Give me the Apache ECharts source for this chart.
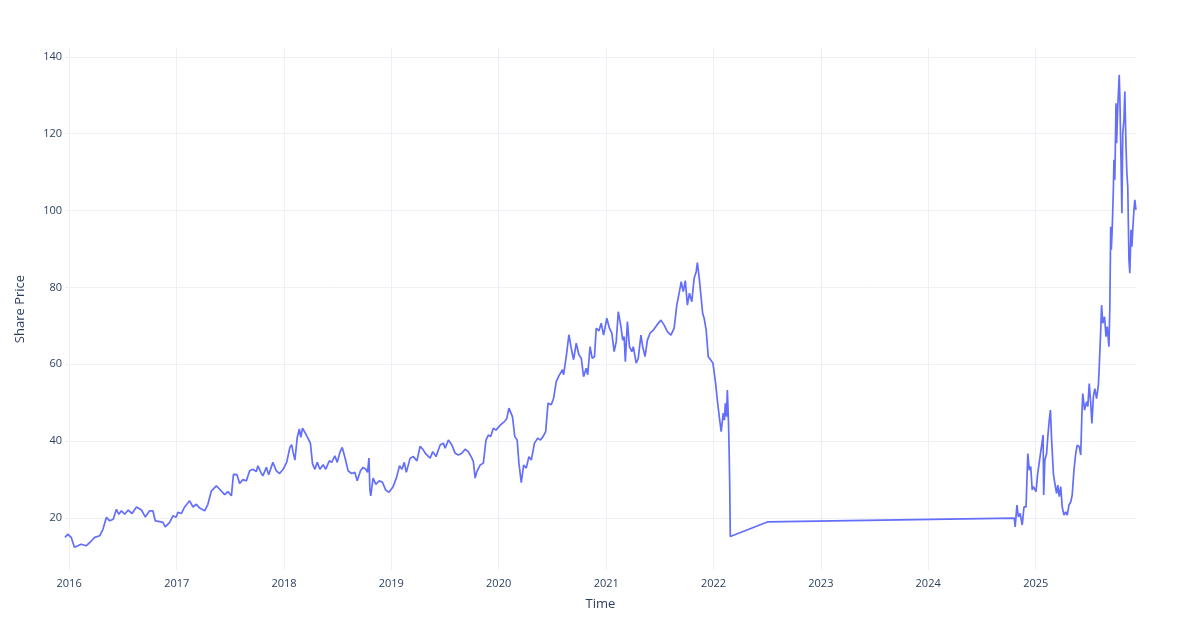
<!DOCTYPE html>
<html>
<head>
<meta charset="utf-8">
<title>Share Price</title>
<script src="https://cdn.jsdelivr.net/npm/echarts@6/dist/echarts.min.js"></script>
<style>
  html, body { margin: 0; background: #fff; }
  #chart { width: 1200px; height: 640px; }
</style>
</head>
<body>
<div id="chart"></div>
<script>
// values
const dates = [
  '2015-12-18','2015-12-27','2016-01-08','2016-01-19','2016-01-31','2016-02-11','2016-02-28','2016-03-17','2016-03-28','2016-04-14',
  '2016-04-25','2016-05-07','2016-05-18','2016-05-30','2016-06-10','2016-06-18','2016-06-27','2016-07-08','2016-07-20','2016-08-02',
  '2016-08-17','2016-09-03','2016-09-16','2016-10-01','2016-10-12','2016-10-20','2016-11-04','2016-11-15','2016-11-23','2016-12-08',
  '2016-12-19','2016-12-30','2017-01-05','2017-01-17','2017-01-28','2017-02-14','2017-02-25','2017-03-09','2017-03-20','2017-04-06',
  '2017-04-17','2017-04-29','2017-05-16','2017-05-27','2017-06-13','2017-06-24','2017-07-06','2017-07-13','2017-07-25','2017-08-03',
  '2017-08-14','2017-08-26','2017-09-06','2017-09-17','2017-09-29','2017-10-04','2017-10-16','2017-10-21','2017-11-02','2017-11-10',
  '2017-11-24','2017-12-06','2017-12-17','2017-12-29','2018-01-10','2018-01-21','2018-01-27','2018-02-01','2018-02-07','2018-02-15',
  '2018-02-22','2018-02-27','2018-03-05','2018-03-13','2018-03-19','2018-03-28','2018-04-01','2018-04-08','2018-04-16','2018-04-24',
  '2018-05-03','2018-05-14','2018-05-23','2018-06-04','2018-06-12','2018-06-23','2018-07-01','2018-07-10','2018-07-18','2018-07-24',
  '2018-07-30','2018-08-07','2018-08-19','2018-08-30','2018-09-07','2018-09-18','2018-09-27','2018-10-06','2018-10-12','2018-10-17',
  '2018-10-20','2018-10-23','2018-10-31','2018-11-09','2018-11-21','2018-12-02','2018-12-13','2018-12-24','2019-01-06','2019-01-18',
  '2019-01-29','2019-02-06','2019-02-14','2019-02-21','2019-03-06','2019-03-17','2019-03-29','2019-04-09','2019-04-20','2019-04-26',
  '2019-05-13','2019-05-22','2019-06-02','2019-06-16','2019-06-27','2019-07-03','2019-07-14','2019-07-26','2019-08-06','2019-08-17',
  '2019-08-29','2019-09-09','2019-09-20','2019-10-02','2019-10-07','2019-10-13','2019-10-19','2019-10-30','2019-11-10','2019-11-19',
  '2019-11-27','2019-12-05','2019-12-14','2019-12-23','2020-01-02','2020-01-14','2020-01-21','2020-01-29','2020-02-05','2020-02-10',
  '2020-02-17','2020-02-25','2020-03-04','2020-03-10','2020-03-18','2020-03-26','2020-04-04','2020-04-13','2020-04-21','2020-05-02',
  '2020-05-13','2020-05-22','2020-05-31','2020-06-09','2020-06-17','2020-06-28','2020-07-06','2020-07-15','2020-07-24','2020-08-05',
  '2020-08-09','2020-08-18','2020-08-27','2020-09-04','2020-09-12','2020-09-21','2020-09-30','2020-10-08','2020-10-16','2020-10-25',
  '2020-10-30','2020-11-07','2020-11-14','2020-11-22','2020-11-28','2020-12-07','2020-12-15','2020-12-23','2021-01-03','2021-01-12',
  '2021-01-20','2021-01-28','2021-02-04','2021-02-11','2021-02-20','2021-02-26','2021-03-03','2021-03-07','2021-03-14','2021-03-21',
  '2021-03-29','2021-04-03','2021-04-13','2021-04-20','2021-04-29','2021-05-05','2021-05-13','2021-05-21','2021-05-30','2021-06-10',
  '2021-06-22','2021-07-06','2021-07-17','2021-07-28','2021-08-09','2021-08-20','2021-08-29','2021-09-07','2021-09-13','2021-09-20',
  '2021-09-27','2021-10-04','2021-10-11','2021-10-19','2021-10-27','2021-11-03','2021-11-07','2021-11-14','2021-11-20','2021-11-25',
  '2021-11-30','2021-12-07','2021-12-14','2021-12-23','2021-12-30','2022-01-04','2022-01-08','2022-01-15','2022-01-22','2022-01-27',
  '2022-02-03','2022-02-07','2022-02-10','2022-02-14','2022-02-17','2022-02-21','2022-02-23','2022-02-25','2022-02-27','2022-07-03',
  '2024-10-20','2024-10-23','2024-10-29','2024-11-03','2024-11-09','2024-11-16','2024-11-22','2024-11-29','2024-12-05','2024-12-10',
  '2024-12-15','2024-12-20','2024-12-24','2025-01-02','2025-01-07','2025-01-14','2025-01-18','2025-01-22','2025-01-26','2025-01-28',
  '2025-02-01','2025-02-07','2025-02-11','2025-02-16','2025-02-20','2025-02-24','2025-03-02','2025-03-07','2025-03-13','2025-03-17',
  '2025-03-22','2025-03-27','2025-04-01','2025-04-07','2025-04-13','2025-04-18','2025-04-24','2025-04-30','2025-05-05','2025-05-11',
  '2025-05-17','2025-05-22','2025-05-29','2025-06-03','2025-06-07','2025-06-10','2025-06-16','2025-06-23','2025-06-27','2025-07-02',
  '2025-07-07','2025-07-11','2025-07-16','2025-07-21','2025-07-27','2025-08-02','2025-08-05','2025-08-10','2025-08-13','2025-08-17',
  '2025-08-23','2025-08-28','2025-09-01','2025-09-07','2025-09-10','2025-09-13','2025-09-15','2025-09-18','2025-09-22','2025-09-24',
  '2025-09-27','2025-10-01','2025-10-03','2025-10-07','2025-10-12','2025-10-14','2025-10-18','2025-10-21','2025-10-24','2025-10-28',
  '2025-10-31','2025-11-04','2025-11-07','2025-11-10','2025-11-14','2025-11-17','2025-11-21','2025-11-24','2025-11-27','2025-12-01',
  '2025-12-04','2025-12-08'
];
const prices = [
  15.0, 15.8, 15.0, 12.4, 12.8, 13.2, 12.8, 14.1, 15.0, 15.4,
  17.1, 20.2, 19.3, 19.7, 22.3, 21.0, 21.9, 21.0, 22.1, 21.2,
  22.9, 22.1, 20.3, 21.9, 21.9, 19.3, 19.1, 18.9, 17.7, 18.9,
  20.6, 20.2, 21.5, 21.2, 22.9, 24.5, 22.9, 23.6, 22.6, 21.9,
  23.6, 27.1, 28.4, 27.5, 26.1, 26.9, 25.8, 31.4, 31.3, 29.0,
  30.0, 29.7, 32.3, 32.7, 32.1, 33.6, 31.6, 31.0, 33.2, 31.3,
  34.5, 32.3, 31.6, 32.7, 34.5, 38.4, 39.1, 37.1, 35.1, 41.0,
  43.2, 41.0, 43.4, 42.3, 42.6, 40.1, 39.3, 34.1, 32.7, 34.5,
  32.7, 33.9, 32.7, 34.9, 34.5, 36.2, 34.5, 37.1, 38.4, 36.7,
  34.9, 32.3, 31.6, 31.9, 29.7, 32.3, 33.2, 32.7, 31.9, 35.6,
  27.5, 25.8, 30.4, 28.8, 29.7, 29.3, 27.3, 26.7, 28.0, 30.4,
  33.6, 32.7, 34.5, 31.9, 35.6, 36.0, 34.9, 38.7, 37.7, 36.9,
  35.6, 37.3, 36.0, 39.0, 39.5, 38.2, 40.3, 39.0, 36.9, 36.4,
  36.9, 37.9, 37.3, 35.6, 34.7, 30.4, 32.1, 33.8, 34.3, 40.3,
  41.6, 41.2, 43.4, 42.9, 43.8, 44.7, 45.1, 46.0, 48.6, 48.3,
  46.4, 41.2, 40.3, 34.3, 29.2, 33.8, 33.0, 36.0, 35.1, 39.5,
  40.8, 40.3, 41.2, 42.5, 49.9, 49.5, 51.2, 55.5, 57.0, 58.6,
  57.3, 62.0, 67.7, 64.2, 61.2, 65.5, 62.5, 61.6, 56.8, 59.0,
  57.3, 64.6, 61.6, 62.0, 69.4, 68.7, 70.7, 67.6, 72.0, 69.4,
  68.1, 63.3, 65.9, 73.7, 69.8, 66.3, 67.2, 60.7, 71.1, 64.6,
  63.3, 64.6, 60.3, 61.6, 67.6, 64.6, 62.0, 66.3, 68.1, 68.9,
  70.2, 71.5, 70.2, 68.5, 67.6, 69.4, 75.4, 78.9, 81.5, 78.9,
  81.8, 75.4, 78.5, 76.3, 82.4, 84.1, 86.5, 81.9, 81.5, 73.3,
  72.0, 68.9, 62.0, 61.1, 60.3, 59.8, 55.1, 49.9, 45.5, 42.5,
  47.3, 45.5, 49.9, 46.4, 53.3, 44.6, 37.7, 29.0, 15.2, 19.0,
  20.0, 17.7, 23.4, 20.3, 21.2, 18.2, 22.9, 22.9, 36.8, 32.5,
  33.4, 27.3, 28.2, 26.9, 31.2, 35.1, 37.3, 39.4, 41.6, 26.0,
  35.1, 36.8, 41.2, 45.5, 48.1, 40.3, 31.6, 29.0, 26.4, 28.6,
  25.6, 28.2, 22.9, 20.8, 21.6, 20.8, 23.4, 24.2, 26.0, 32.5,
  36.8, 39.0, 38.6, 36.4, 47.2, 52.4, 48.1, 50.3, 49.0, 55.0,
  49.8, 44.6, 51.6, 53.7, 51.1, 54.6, 59.4, 68.9, 75.4, 70.7,
  72.4, 67.2, 69.8, 64.6, 75.0, 95.8, 89.8, 95.0, 105.4, 113.2,
  108.0, 127.9, 117.5, 127.1, 135.3, 129.7, 113.2, 99.3, 120.1, 123.6,
  131.0, 116.7, 109.7, 106.2, 87.2, 83.7, 95.0, 90.6, 95.0, 100.2,
  102.8, 100.2
];
const yTicks = [20, 40, 60, 80, 100, 120, 140];
const yearTicks = [2016, 2017, 2018, 2019, 2020, 2021, 2022, 2023, 2024, 2025];

const textColor = '#2a3f5f';
const gridColor = '#edf0f5';

function toTime(s) {
  const [y, m, d] = s.split('-').map(Number);
  return new Date(y, m - 1, d).getTime();
}
const yearValues = yearTicks.map(y => new Date(y, 0, 1).getTime());

const chart = echarts.init(document.getElementById('chart'));
chart.setOption({
  animation: false,
  backgroundColor: '#fff',
  textStyle: { fontFamily: '"Open Sans", Verdana, Arial, sans-serif' },
  grid: { left: 65, right: 64, top: 48, bottom: 70 },
  xAxis: {
    type: 'value',
    min: 'dataMin',
    max: 'dataMax',
    name: 'Time',
    nameLocation: 'middle',
    nameGap: 28,
    nameTextStyle: { color: textColor, fontSize: 13 },
    axisLine: { show: false },
    axisTick: { show: false, customValues: yearValues },
    axisLabel: {
      customValues: yearValues,
      color: textColor,
      fontSize: 11,
      margin: 8,
      formatter: v => String(new Date(v).getFullYear())
    },
    splitLine: { show: true, lineStyle: { color: gridColor, width: 1 } }
  },
  yAxis: {
    type: 'value',
    min: 6.5,
    max: 142.3,
    name: 'Share Price',
    nameLocation: 'middle',
    nameGap: 38,
    nameTextStyle: { color: textColor, fontSize: 13 },
    axisLine: { show: false },
    axisTick: { show: false, customValues: yTicks },
    axisLabel: { customValues: yTicks, color: textColor, fontSize: 11, margin: 3 },
    splitLine: { show: true, lineStyle: { color: gridColor, width: 1 } }
  },
  series: [{
    type: 'line',
    data: dates.map((d, i) => [toTime(d), prices[i]]),
    showSymbol: false,
    clip: true,
    lineStyle: { color: '#636efa', width: 1.7 },
    itemStyle: { color: '#636efa' }
  }]
});
</script>
</body>
</html>
